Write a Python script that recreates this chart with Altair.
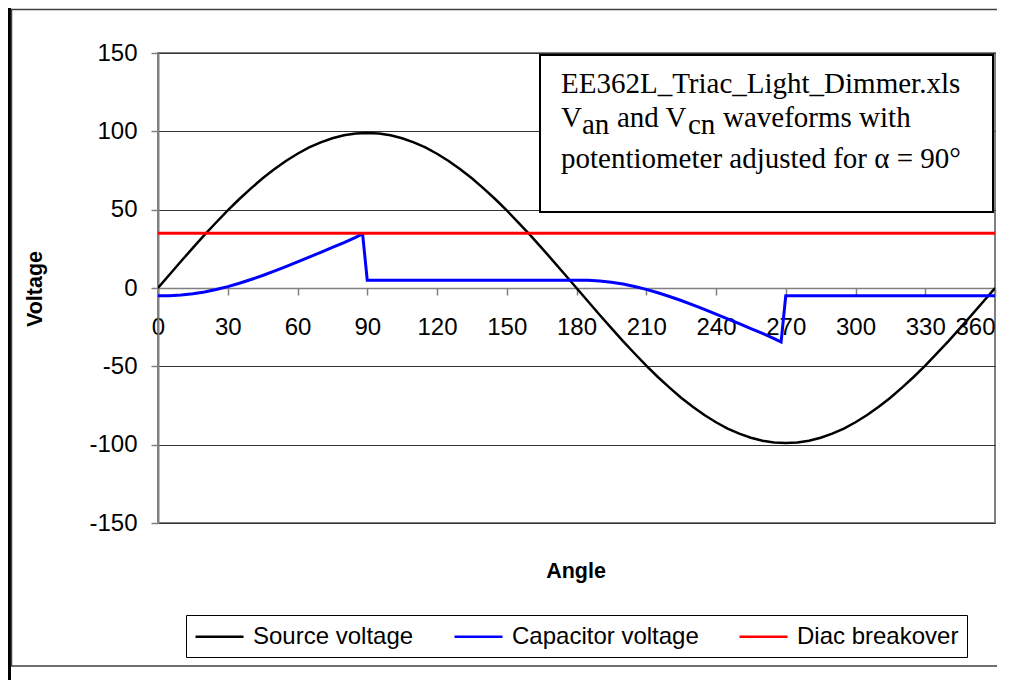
import altair as alt
import pandas as pd

# ---------------- data ----------------
src_angles = [0, 5, 10, 15, 20, 25, 30, 35, 40, 45, 50, 55, 60, 65, 70, 75, 80, 85, 90,
              95, 100, 105, 110, 115, 120, 125, 130, 135, 140, 145, 150, 155, 160, 165, 170, 175, 180,
              185, 190, 195, 200, 205, 210, 215, 220, 225, 230, 235, 240, 245, 250, 255, 260, 265, 270,
              275, 280, 285, 290, 295, 300, 305, 310, 315, 320, 325, 330, 335, 340, 345, 350, 355, 360]
src_volts = [0, 8.6, 17.2, 25.6, 33.9, 41.8, 49.5, 56.8, 63.6, 70.0, 75.8, 81.1, 85.7, 89.7, 93.0, 95.6, 97.5, 98.6, 99.0,
             98.6, 97.5, 95.6, 93.0, 89.7, 85.7, 81.1, 75.8, 70.0, 63.6, 56.8, 49.5, 41.8, 33.9, 25.6, 17.2, 8.6, 0,
             -8.6, -17.2, -25.6, -33.9, -41.8, -49.5, -56.8, -63.6, -70.0, -75.8, -81.1, -85.7, -89.7, -93.0, -95.6, -97.5, -98.6, -99.0,
             -98.6, -97.5, -95.6, -93.0, -89.7, -85.7, -81.1, -75.8, -70.0, -63.6, -56.8, -49.5, -41.8, -33.9, -25.6, -17.2, -8.6, 0]

cap_angles = [0, 5, 10, 15, 20, 25, 30, 35, 40, 45, 50, 55, 60, 65, 70, 75, 80, 85, 88, 90,
              180, 185, 190, 195, 200, 205, 210, 215, 220, 225, 230, 235, 240, 245, 250, 255, 260, 265, 268, 270,
              360]
cap_volts = [-5.0, -4.9, -4.5, -3.7, -2.6, -1.0, 0.9, 3.0, 5.4, 8.0, 10.8, 13.7, 16.7, 19.7, 22.8, 25.9, 29.0, 32.3, 34.5, 5.0,
             5.0, 4.9, 4.5, 3.7, 2.6, 1.0, -0.9, -3.0, -5.4, -8.0, -10.8, -13.7, -16.7, -19.7, -22.8, -25.9, -29.0, -32.3, -34.5, -5.0,
             -5.0]

diac_angles = [0, 360]
diac_volts = [35, 35]

series_names = ["Source voltage", "Capacitor voltage", "Diac breakover"]
series_colors = ["#000000", "#0000FF", "#FF0000"]
series_widths = [2.5, 3, 3]

x_ticks = [0, 30, 60, 90, 120, 150, 180, 210, 240, 270, 300, 330, 360]
y_ticks = [-150, -100, -50, 0, 50, 100, 150]

note_line1 = "EE362L_Triac_Light_Dimmer.xls"
note_v = "V"
note_an = "an"
note_and_v = "and V"
note_cn = "cn"
note_rest = "waveforms with"
note_line3 = "potentiometer adjusted for \u03b1 = 90\u00b0"

x_title = "Angle"
y_title = "Voltage"

# ---------------- tables ----------------
tables = [
    pd.DataFrame({"angle": src_angles, "voltage": src_volts, "series": series_names[0]}),
    pd.DataFrame({"angle": cap_angles, "voltage": cap_volts, "series": series_names[1]}),
    pd.DataFrame({"angle": diac_angles, "voltage": diac_volts, "series": series_names[2]}),
]

one = pd.DataFrame({"a": [0]})
SANS = "Liberation Sans"
SERIF = "Liberation Serif"

W, H = 837, 470

x_enc = alt.X("angle:Q",
              scale=alt.Scale(domain=[0, 360], nice=False, zero=False),
              axis=alt.Axis(values=x_ticks, offset=-H / 2, tickSize=7, labelPadding=20,
                            labelFontSize=24, labelFont=SANS, labelColor="black",
                            labelAlign=alt.condition("datum.value >= 360", alt.value("right"), alt.value("center")),
                            labelFlush=False, labelOverlap=False,
                            domainColor="#808080", domainWidth=1.5,
                            tickColor="#808080", tickWidth=1.5,
                            grid=False, title=None))
y_enc = alt.Y("voltage:Q",
              scale=alt.Scale(domain=[-150, 150], nice=False, zero=False),
              axis=alt.Axis(values=y_ticks, tickSize=7, labelPadding=14,
                            labelFontSize=24, labelFont=SANS, labelColor="black",
                            labelExpr="'' + datum.value",
                            labelFlush=False, labelOverlap=False,
                            domainColor="#808080", domainWidth=2,
                            tickColor="#808080", tickWidth=1.5,
                            grid=True, gridColor="#333333", gridWidth=1,
                            title=None))
legend = alt.Legend(title=None, orient="none", legendX=28, legendY=562,
                    direction="horizontal",
                    symbolType="M-1,0L3,0", symbolSize=576,
                    symbolStrokeWidth=2.5,
                    labelFontSize=24, labelFont=SANS, labelColor="black",
                    labelLimit=0, labelOffset=32, columnPadding=35,
                    padding=8, strokeColor="black", fillColor="white")
color_enc = alt.Color("series:N", scale=alt.Scale(domain=series_names, range=series_colors),
                      legend=legend)


def series_line(tbl, w):
    return alt.Chart(tbl).mark_line(clip=True, strokeWidth=w).encode(
        x=x_enc, y=y_enc, color=color_enc, order=alt.Order("angle:Q"))


lines = [series_line(t, w) for t, w in zip(tables, series_widths)]

# note box
box = alt.Chart(one).mark_rect(fill="white", stroke="black", strokeWidth=2).encode(
    x=alt.value(382), x2=alt.value(835), y=alt.value(2), y2=alt.value(159))


def txt(s, x, y, font=SERIF, size=29, weight="normal", angle=0, align="left", baseline="alphabetic"):
    return alt.Chart(one).mark_text(text=s, font=font, fontSize=size, fontWeight=weight,
                                    angle=angle, align=align, baseline=baseline,
                                    color="black").encode(x=alt.value(x), y=alt.value(y))


notes = [
    txt(note_line1, 403, 40),
    txt(note_v, 403, 74),
    txt(note_an, 424, 81),
    txt(note_and_v, 459, 74),
    txt(note_cn, 530, 81),
    txt(note_rest, 565, 74),
    txt(note_line3, 403, 115),
]

titles = [
    txt(x_title, 418, 519, font=SANS, size=21.5, weight="bold", align="center", baseline="middle"),
    txt(y_title, -122, 236, font=SANS, size=21.5, weight="bold", angle=270, align="center", baseline="middle"),
]

# outer frame
bar = alt.Chart(one).mark_rect(fill="black").encode(
    x=alt.value(-150), x2=alt.value(-147), y=alt.value(-45), y2=alt.value(627))
frame = alt.Chart(one).mark_rect(fill="white", fillOpacity=0, stroke="#404040", strokeWidth=1.5).encode(
    x=alt.value(-146.5), x2=alt.value(870), y=alt.value(-43.5), y2=alt.value(613))

chart = alt.layer(bar, frame, *lines, box, *notes, *titles).properties(
    width=W, height=H,
    padding={"left": 150, "top": 45, "right": 2, "bottom": 165},
    autosize=alt.AutoSizeParams(type="none"),
    background="white",
).configure_view(stroke="#808080", strokeWidth=2)

chart.save("out.html", embed_options={"renderer": "svg", "actions": False})
